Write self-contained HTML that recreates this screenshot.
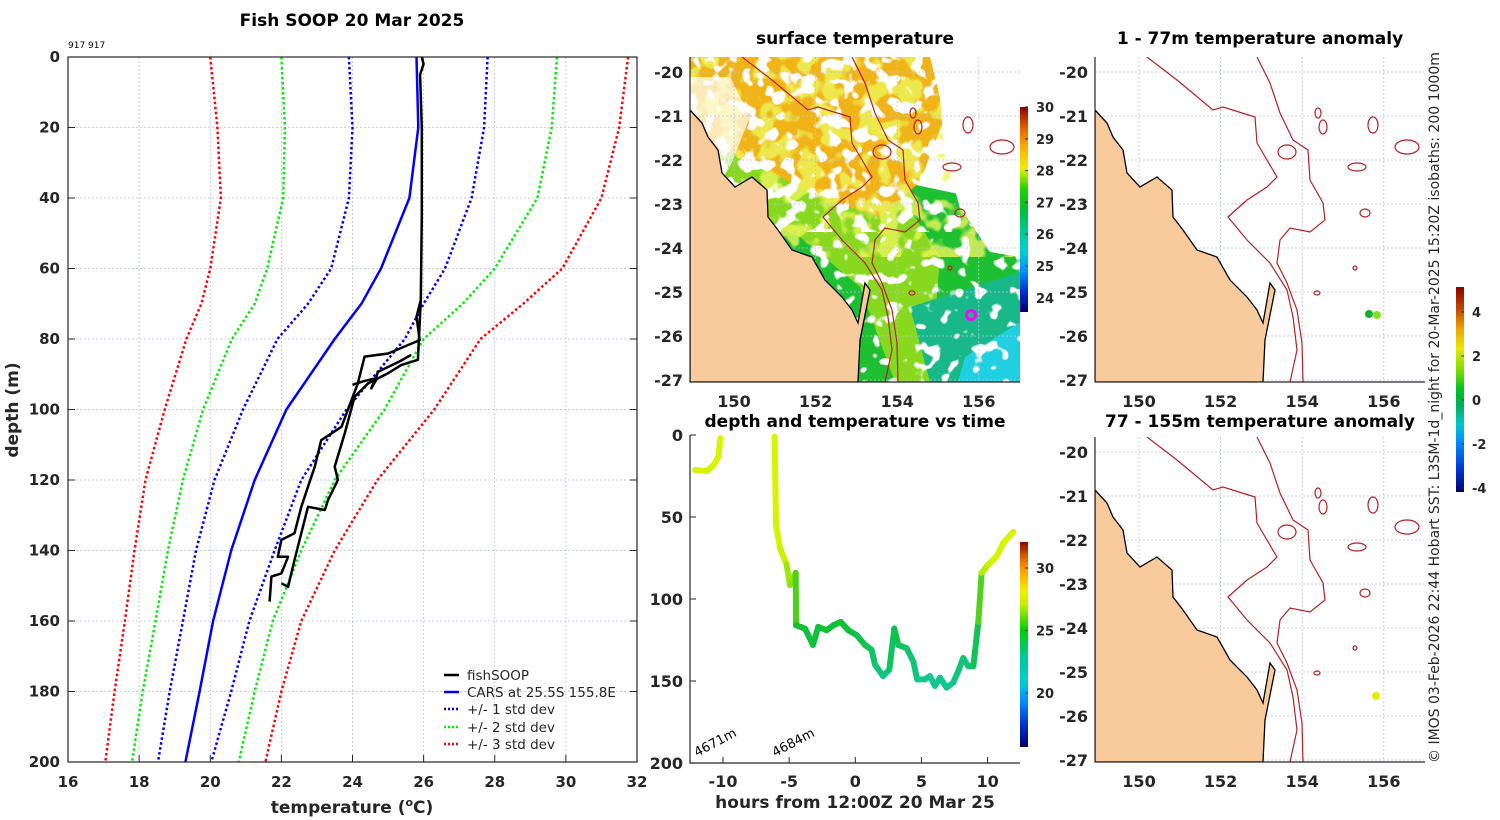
<!DOCTYPE html>
<html><head><meta charset="utf-8"><title>Fish SOOP 20 Mar 2025</title>
<style>
html,body{margin:0;padding:0;background:#fff;}
svg{display:block;font-family:"DejaVu Sans","Liberation Sans",sans-serif;}
.tk{font-size:15px;font-weight:bold;fill:#262626;}
.ttl{font-size:17px;font-weight:bold;fill:#000;}
</style></head>
<body>
<svg id="fig" width="1500" height="820" viewBox="0 0 1500 820" xmlns="http://www.w3.org/2000/svg">
<defs>
<filter id="speckHeavy" x="0" y="0" width="100%" height="100%">
<feTurbulence type="fractalNoise" baseFrequency="0.07" numOctaves="2" seed="7" result="n"/>
<feColorMatrix in="n" type="matrix" values="0 0 0 0 1  0 0 0 0 1  0 0 0 0 1  -14 0 0 0 6.5"/>
</filter>
<filter id="speckLight" x="0" y="0" width="100%" height="100%">
<feTurbulence type="fractalNoise" baseFrequency="0.07" numOctaves="2" seed="11" result="n"/>
<feColorMatrix in="n" type="matrix" values="0 0 0 0 1  0 0 0 0 1  0 0 0 0 1  -14 0 0 0 5.6"/>
</filter>
<filter id="tint" x="0" y="0" width="100%" height="100%">
<feTurbulence type="fractalNoise" baseFrequency="0.05" numOctaves="2" seed="3" result="n"/>
<feColorMatrix in="n" type="matrix" values="0 0 0 0 0.85  0 0 0 0 0.92  0 0 0 0 0.1  -10 0 0 0 5.2"/>
</filter>
<clipPath id="clipMid"><rect x="690" y="57" width="330" height="325"/></clipPath>
<clipPath id="clipTop"><rect x="690" y="57" width="330" height="175"/></clipPath>
<clipPath id="clipBot"><rect x="690" y="232" width="330" height="150"/></clipPath>
<clipPath id="clipR1"><rect x="1095" y="57" width="329" height="325"/></clipPath>
<clipPath id="clipR2"><rect x="1095" y="437" width="329" height="325"/></clipPath>
<clipPath id="clipL"><rect x="68" y="57" width="569" height="705"/></clipPath>
<linearGradient id="cbSST" x1="0" y1="1" x2="0" y2="0">
<stop offset="0" stop-color="#000070"/><stop offset="0.1" stop-color="#0030d0"/><stop offset="0.2" stop-color="#0090ff"/><stop offset="0.3" stop-color="#00d0d0"/><stop offset="0.4" stop-color="#00c890"/><stop offset="0.5" stop-color="#00c030"/><stop offset="0.6" stop-color="#20d000"/><stop offset="0.7" stop-color="#e8f000"/><stop offset="0.8" stop-color="#ffb000"/><stop offset="0.9" stop-color="#e06000"/><stop offset="1" stop-color="#900000"/>
</linearGradient>
<linearGradient id="cbTime" x1="0" y1="1" x2="0" y2="0">
<stop offset="0" stop-color="#000070"/><stop offset="0.11" stop-color="#0030d0"/><stop offset="0.23" stop-color="#0090ff"/><stop offset="0.32" stop-color="#00d0d0"/><stop offset="0.45" stop-color="#00c890"/><stop offset="0.57" stop-color="#00d000"/><stop offset="0.7" stop-color="#c8f000"/><stop offset="0.76" stop-color="#f0f000"/><stop offset="0.82" stop-color="#ffc000"/><stop offset="0.88" stop-color="#ff9000"/><stop offset="0.94" stop-color="#d05000"/><stop offset="1" stop-color="#900000"/>
</linearGradient>
<linearGradient id="cbAnom" x1="0" y1="1" x2="0" y2="0">
<stop offset="0" stop-color="#000070"/><stop offset="0.1" stop-color="#0030d0"/><stop offset="0.25" stop-color="#0090ff"/><stop offset="0.33" stop-color="#00c8c8"/><stop offset="0.42" stop-color="#00b060"/><stop offset="0.5" stop-color="#00c020"/><stop offset="0.6" stop-color="#80e000"/><stop offset="0.7" stop-color="#e8e800"/><stop offset="0.8" stop-color="#f0a000"/><stop offset="0.9" stop-color="#c04000"/><stop offset="1" stop-color="#900000"/>
</linearGradient>
</defs>

<text x="352" y="26" text-anchor="middle" class="ttl">Fish SOOP 20 Mar 2025</text>
<text x="68" y="48" style="font-size:9px;fill:#000">917 917</text>
<g id="leftGrid"></g>
<g id="leftSeries" clip-path="url(#clipL)"></g>
<rect x="68" y="57" width="569" height="705" fill="none" stroke="#262626" stroke-width="1.2"/>
<g id="leftTicks"></g>
<text transform="translate(18,410) rotate(-90)" text-anchor="middle" style="font-size:17px;font-weight:bold;fill:#262626">depth (m)</text>
<text x="352" y="813" text-anchor="middle" style="font-size:17px;font-weight:bold;fill:#262626">temperature (<tspan dy="-7" style="font-size:11px">o</tspan><tspan dy="7">C)</tspan></text>

<g style="font-size:13.5px;fill:#262626">
<line x1="444" y1="675" x2="459" y2="675" stroke="#000" stroke-width="2.5"/>
<text x="467" y="680">fishSOOP</text>
<line x1="444" y1="692" x2="459" y2="692" stroke="#0000ff" stroke-width="2.5"/>
<text x="467" y="697">CARS at 25.5S 155.8E</text>
<line x1="444" y1="709" x2="459" y2="709" stroke="#0000ff" stroke-width="2.5" stroke-dasharray="2,2"/>
<text x="467" y="714">+/- 1 std dev</text>
<line x1="444" y1="727" x2="459" y2="727" stroke="#00ee00" stroke-width="2.5" stroke-dasharray="2,2"/>
<text x="467" y="732">+/- 2 std dev</text>
<line x1="444" y1="744" x2="459" y2="744" stroke="#ff0000" stroke-width="2.5" stroke-dasharray="2,2"/>
<text x="467" y="749">+/- 3 std dev</text>
</g>

<text x="855" y="44" text-anchor="middle" class="ttl">surface temperature</text>
<g id="mapMid"></g>
<text x="855" y="427" text-anchor="middle" class="ttl">depth and temperature vs time</text>
<g id="timePlot"></g>
<text x="855" y="808" text-anchor="middle" style="font-size:17px;font-weight:bold;fill:#262626">hours from 12:00Z 20 Mar 25</text>

<text x="1260" y="44" text-anchor="middle" class="ttl">1 - 77m temperature anomaly</text>
<g id="mapR1"></g>
<text x="1260" y="427" text-anchor="middle" class="ttl">77 - 155m temperature anomaly</text>
<g id="mapR2"></g>

<rect x="1020" y="107" width="8" height="205" fill="url(#cbSST)"/>
<g id="cbSSTt" class="tk" style="font-size:13px"></g>
<rect x="1020" y="542" width="8" height="205" fill="url(#cbTime)"/>
<g id="cbTimet" class="tk" style="font-size:13px"></g>
<rect x="1456" y="287" width="8" height="205" fill="url(#cbAnom)"/>
<g id="cbAnomt" class="tk" style="font-size:13px"></g>

<text transform="translate(1439,763) rotate(-90)" style="font-size:14px;fill:#262626">© IMOS 03-Feb-2026 22:44 Hobart SST: L3SM-1d_night for 20-Mar-2025 15:20Z isobaths: 200  1000m</text>
</svg>

<script>
// ---------- profile data ----------
const depthLevels = [0,20,40,60,70,80,100,120,140,160,180,200];
const carsMean  = [25.8,25.85,25.6,24.8,24.25,23.5,22.14,21.25,20.59,20.08,19.7,19.3];
const minus1Std = [23.9,24.0,23.9,23.4,22.75,21.89,20.92,20.12,19.6,19.23,18.86,18.53];
const plus1Std  = [27.8,27.7,27.35,26.6,26.0,25.47,23.83,22.56,21.81,21.1,20.59,20.03];
const minus2Std = [22.0,22.1,22.05,21.6,21.25,20.61,19.8,19.23,18.81,18.46,18.1,17.8];
const plus2Std  = [29.75,29.6,29.2,28.0,27.1,26.0,24.9,23.5,22.56,21.76,21.25,20.8];
const minus3Std = [20.0,20.2,20.3,20.0,19.75,19.33,18.72,18.18,17.87,17.6,17.31,17.05];
const plus3Std  = [31.75,31.5,31.0,29.9,28.8,27.6,26.3,24.7,23.5,22.56,22.0,21.55];
const fishTempA  = [25.95,26.0,25.9,25.95,25.95,25.92,25.8,25.89,25.0,24.34,24.15,23.69,23.12,22.94,22.75,22.56,22.37,22.0,21.9,22.19,22.0,21.72,21.67];
const fishDepthA = [0,2,5,20,45,68.9,73.7,80.3,84.1,85,92.6,104.9,108.7,116.2,121.9,127.6,135.1,137,141.8,141.8,146.5,147.4,154.5];
const fishTempB  = [25.92,25.84,25.37,25.0,24.44,24.06,23.78,23.5,23.59,23.31,23.22,22.75,22.56,22.37,22.19,22.0];
const fishDepthB = [68.9,85.9,87.4,89.7,92.6,96.4,106.8,116.2,120,125.7,128.5,127.6,135.1,142.7,150.3,149.3];
const fishTempC  = [25.65,25.3,24.72,24.53,24.7,24.3,24.0];
const fishDepthC = [84.5,86.5,89.3,94,91,92,93];
const tempTicks = [16,18,20,22,24,26,28,30,32];
const depthTicks = [0,20,40,60,80,100,120,140,160,180,200];

// ---------- time plot data ----------
const seg1Hours = [-12.1,-11.2,-10.7,-10.35,-10.2];
const seg1Depth = [21.3,22,18.3,13.2,2];
const seg1Temp  = [27.4,27.4,27.4,27.4,27.4];
const seg2Hours = [-6.1,-5.99,-5.69,-5.19,-4.94,-4.5,-4.48,-3.8,-3.2,-2.8,-2.17,-1.66,-1.1,-0.53,0.1,0.73,1.23,1.49,2.1,2.57,2.95,3.25,3.88,4.38,4.68,5.26,5.64,6.02,6.4,6.9,7.4,7.78,8.16,8.54,8.92,9.3,9.55,10.05,10.68,11.18,11.94];
const seg2Depth = [1,55,69,79,91.5,84,116,118,128,117,119,116,114,119,122,128,131,140,147,143,118,128,130,138,149,149,147,153,148,154,151,144,136,141,141,114,84,79,74,66,59];
const seg2Temp  = [27.4,27.4,27.3,27.1,26.6,26.8,25.0,24.9,24.7,24.9,24.9,24.9,24.9,24.8,24.6,24.4,24.2,23.9,23.5,23.6,24.7,24.3,24.1,23.8,23.4,23.4,23.4,23.2,23.4,23.2,23.3,23.6,23.8,23.7,23.7,25.0,26.9,27.2,27.3,27.4,27.5];
const hourTicks = [-10,-5,0,5,10];
const timeDepthTicks = [0,50,100,150,200];

// ---------- colorbar ticks ----------
const sstTicks = [30,29,28,27,26,25,24];
const timeCbTicks = [30,25,20];
const anomTicks = [4,2,0,-2,-4];
const latTicks = [-20,-21,-22,-23,-24,-25,-26,-27];
const lonTicks = [150,152,154,156];

const NS='http://www.w3.org/2000/svg';
function mk(tag, attrs, parent){const e=document.createElementNS(NS,tag);for(const k in attrs)e.setAttribute(k,attrs[k]);parent.appendChild(e);return e;}

// profile axes
const px = t => 68 + (t-16)*569/16;
const py = d => 57 + d*705/200;
const lg = document.getElementById('leftGrid');
const lt = document.getElementById('leftTicks');
tempTicks.forEach(t=>{
  if(t>16&&t<32){const g=mk('line',{x1:px(t),x2:px(t),y1:57,y2:762,stroke:'#b8c0e0','stroke-width':0.8,'stroke-dasharray':'2,2'},lg);
  
  }
  const tk=mk('line',{x1:px(t),x2:px(t),y1:762,y2:755,stroke:'#262626'},lt);
  
  
  const l=mk('text',{x:px(t),y:787,'text-anchor':'middle',class:'tk'},lt);l.textContent=t;
  
  
});
depthTicks.forEach(d=>{
  if(d>0&&d<200){const g=mk('line',{x1:68,x2:637,y1:py(d),y2:py(d),stroke:'#b8c0e0','stroke-width':0.8,'stroke-dasharray':'2,2'},lg);
  
  }
  const tk=mk('line',{x1:68,x2:75,y1:py(d),y2:py(d),stroke:'#262626'},lt);
  
  
  const tk2=mk('line',{x1:630,x2:637,y1:py(d),y2:py(d),stroke:'#262626'},lt);
  
  
  const l=mk('text',{x:60,y:py(d)+5,'text-anchor':'end',class:'tk'},lt);l.textContent=d;
  
  
});
const ls=document.getElementById('leftSeries');
function profLine(temps,depths,color,dash,w){
  const pts=temps.map((t,i)=>px(t).toFixed(1)+','+py(depths[i]).toFixed(1)).join(' ');
  const a={points:pts,fill:'none',stroke:color,'stroke-width':w,'stroke-linejoin':'round'};
  if(dash)a['stroke-dasharray']=dash;
  return mk('polyline',a,ls);
}
let e;
e=profLine(minus3Std,depthLevels,'#ff0000','2.5,2.5',2.5);


e=profLine(plus3Std,depthLevels,'#ff0000','2.5,2.5',2.5);


e=profLine(minus2Std,depthLevels,'#00ee00','2.5,2.5',2.5);


e=profLine(plus2Std,depthLevels,'#00ee00','2.5,2.5',2.5);


e=profLine(minus1Std,depthLevels,'#0000ff','2.5,2.5',2.5);


e=profLine(plus1Std,depthLevels,'#0000ff','2.5,2.5',2.5);


e=profLine(carsMean,depthLevels,'#0000ff',null,2.5);


e=profLine(fishTempA,fishDepthA,'#000',null,2.5);


e=profLine(fishTempB,fishDepthB,'#000',null,2.5);


e=profLine(fishTempC,fishDepthC,'#000',null,2.5);



// ---------- maps ----------
const coast=[[0,53],[12,66],[18,80],[28,93],[32,116],[45,130],[62,120],[77,133],[78,160],[88,173],[102,193],[122,200],[135,223],[152,240],[162,253],[168,266],[175,226],[180,233],[170,283],[168,325],[0,325]];
const iso1000=[[162,0],[175,26],[185,56],[198,83],[213,93],[215,123],[228,146],[230,163],[215,175],[195,171],[185,183],[182,206],[192,226],[202,253],[207,286],[208,325]];
const iso200=[[52,0],[82,23],[118,53],[128,50],[160,60],[162,86],[182,120],[172,130],[152,143],[133,160],[152,183],[175,206],[192,233],[198,260],[202,293],[195,325]];
const loops=[[223,56,3,5],[228,70,4,7],[278,68,5,8],[192,95,9,7],[262,110,9,4],[312,90,12,7],[270,156,5,4],[260,211,2,2],[222,236,3,2]];
function pstr(arr,x0,y0){return arr.map(p=>(x0+p[0])+','+(y0+p[1])).join(' ');}
function drawMap(id,x0,y0,clip,sst){
  const g=document.getElementById(id);
  const inner=mk('g',{'clip-path':'url(#'+clip+')'},g);
  
  
  if(sst){
    const q=(pts)=>pts.map(p=>(x0+p[0])+','+(y0+p[1])).join(' ');
    let s;
    s=mk('polygon',{points:q([[0,80],[330,150],[330,325],[0,325]]),fill:'#1ec032'},inner);
    
    
    s=mk('polygon',{points:q([[10,70],[200,120],[250,200],[240,325],[205,325],[170,230],[110,180],[40,150]]),fill:'#88d820'},inner);
    
    
    s=mk('polygon',{points:q([[0,0],[250,0],[255,60],[230,125],[190,160],[130,140],[60,105],[0,80]]),fill:'#f0b418'},inner);
    
    
    s=mk('rect',{x:x0,y:y0,width:330,height:200,filter:'url(#tint)',opacity:0.8},inner);
    
    
    s=mk('polygon',{points:q([[220,250],[330,215],[330,325],[240,325]]),fill:'#18b888'},inner);
    
    
    s=mk('polygon',{points:q([[275,300],[330,265],[330,325],[268,325]]),fill:'#20d0e0'},inner);
    
    
    s=mk('polygon',{points:q([[240,0],[330,0],[330,200],[300,195],[270,150],[255,100],[250,40]]),fill:'#fff'},inner);
    
    
    s=mk('polygon',{points:q([[0,20],[40,20],[60,60],[40,110],[0,100]]),fill:'#fff',opacity:0.7},inner);
    
    
    s=mk('rect',{x:x0,y:y0,width:330,height:175,filter:'url(#speckHeavy)','clip-path':'url(#clipTop)'},inner);
    
    
    s=mk('rect',{x:x0,y:y0+175,width:330,height:150,filter:'url(#speckLight)','clip-path':'url(#clipBot)'},inner);
    
    
  }
  latTicks.forEach((lat,i)=>{const y=y0+15+i*44;
    const gl=mk('line',{x1:x0,x2:x0+330,y1:y,y2:y,stroke:'#b8c0e0','stroke-width':0.8,'stroke-dasharray':'2,2'},inner);
    
    });
  lonTicks.forEach((lon,i)=>{const x=x0+44+i*81.6;
    const gl=mk('line',{x1:x,x2:x,y1:y0,y2:y0+325,stroke:'#b8c0e0','stroke-width':0.8,'stroke-dasharray':'2,2'},inner);
    
    });
  const land=mk('polygon',{points:pstr(coast,x0,y0),fill:'#f9cb9c',stroke:'#000','stroke-width':1.3},inner);
  
  
  const i1=mk('polyline',{points:pstr(iso1000,x0,y0),fill:'none',stroke:'#b82020','stroke-width':1.2},inner);
  
  
  const i2=mk('polyline',{points:pstr(iso200,x0,y0),fill:'none',stroke:'#b82020','stroke-width':1.2},inner);
  
  
  loops.forEach(l=>{const c=mk('ellipse',{cx:x0+l[0],cy:y0+l[1],rx:l[2],ry:l[3],fill:'none',stroke:'#b82020','stroke-width':1.2},inner);
    
    });
  const ax=mk('polyline',{points:`${x0},${y0} ${x0},${y0+325} ${x0+330},${y0+325}`,fill:'none',stroke:'#262626','stroke-width':1.2},g);
  
  
  latTicks.forEach((lat,i)=>{const y=y0+15+i*44;
    const t=mk('text',{x:x0-7,y:y+6,'text-anchor':'end',class:'tk',style:'font-size:16px'},g);t.textContent=lat;
    
    });
  lonTicks.forEach((lon,i)=>{const x=x0+44+i*81.6;
    const t=mk('text',{x:x,y:y0+350,'text-anchor':'middle',class:'tk',style:'font-size:16px'},g);t.textContent=lon;
    
    });
}
drawMap('mapMid',690,57,'clipMid',true);
drawMap('mapR1',1095,57,'clipR1',false);
drawMap('mapR2',1095,437,'clipR2',false);
let m;
m=mk('circle',{cx:971,cy:315,r:4.5,fill:'none',stroke:'#ff00ff','stroke-width':3},document.getElementById('mapMid'));


m=mk('circle',{cx:1369,cy:314,r:4,fill:'#10b030'},document.getElementById('mapR1'));


m=mk('circle',{cx:1377,cy:315,r:4,fill:'#80e020'},document.getElementById('mapR1'));


m=mk('circle',{cx:1376,cy:696,r:4,fill:'#e0f000'},document.getElementById('mapR2'));



// ---------- time plot ----------
const tp=document.getElementById('timePlot');
const tx=h=>855.3+h*13.23;
const ty=d=>435+d*1.64;
const cstops=[[15.7,[0,0,112]],[17.5,[0,48,208]],[19.5,[0,144,255]],[21,[0,208,208]],[23,[16,200,160]],[25,[16,192,48]],[26.5,[120,220,16]],[27.3,[210,245,0]],[28,[240,240,0]],[29,[255,192,0]],[30,[255,144,0]],[31,[208,80,0]],[32.2,[144,0,0]]];
function tcol(t){for(let i=0;i<cstops.length-1;i++){const a=cstops[i],b=cstops[i+1];if(t<=b[0]){const f=Math.max(0,(t-a[0])/(b[0]-a[0]));return 'rgb('+a[1].map((v,k)=>Math.round(v+(b[1][k]-v)*f)).join(',')+')';}}return 'rgb(144,0,0)';}
const tax=mk('polyline',{points:'690,435 690,763 1020,763',fill:'none',stroke:'#262626','stroke-width':1.2},tp);


hourTicks.forEach(h=>{const k=mk('line',{x1:tx(h),x2:tx(h),y1:763,y2:757,stroke:'#262626'},tp);
  
  
  const t=mk('text',{x:tx(h),y:787,'text-anchor':'middle',class:'tk',style:'font-size:16px'},tp);t.textContent=h;
  
  });
timeDepthTicks.forEach(d=>{const k=mk('line',{x1:690,x2:696,y1:ty(d),y2:ty(d),stroke:'#262626'},tp);
  
  
  const t=mk('text',{x:683,y:ty(d)+6,'text-anchor':'end',class:'tk',style:'font-size:16px'},tp);t.textContent=d;
  
  });
function drawSeg(hours,depth,temp){
  for(let i=0;i<hours.length-1;i++){
    const s=mk('line',{x1:tx(hours[i]),y1:ty(depth[i]),x2:tx(hours[i+1]),y2:ty(depth[i+1]),stroke:tcol((temp[i]+temp[i+1])/2),'stroke-width':6,'stroke-linecap':'round'},tp);
    
    
  }
}
drawSeg(seg1Hours,seg1Depth,seg1Temp);
drawSeg(seg2Hours,seg2Depth,seg2Temp);
let bl;
bl=mk('text',{transform:'translate(697,757) rotate(-28)',style:'font-size:13px;fill:#000'},tp);bl.textContent='4671m';


bl=mk('text',{transform:'translate(775,757) rotate(-28)',style:'font-size:13px;fill:#000'},tp);bl.textContent='4684m';



// ---------- colorbar ticks ----------
function cbTicks(id,vals,x,yOf){const g=document.getElementById(id);
  vals.forEach(v=>{const y=yOf(v);
    const k=mk('line',{x1:x-8,x2:x-5,y1:y,y2:y,stroke:'#262626'},g);
    
    
    const t=mk('text',{x:x+3,y:y+5},g);t.textContent=v;
    
    });}
cbTicks('cbSSTt',sstTicks,1033,v=>107+(30-v)*31.8);
cbTicks('cbTimet',timeCbTicks,1033,v=>568+(30-v)*12.5);
cbTicks('cbAnomt',anomTicks,1469,v=>400-v*22);
</script>
</body></html>
